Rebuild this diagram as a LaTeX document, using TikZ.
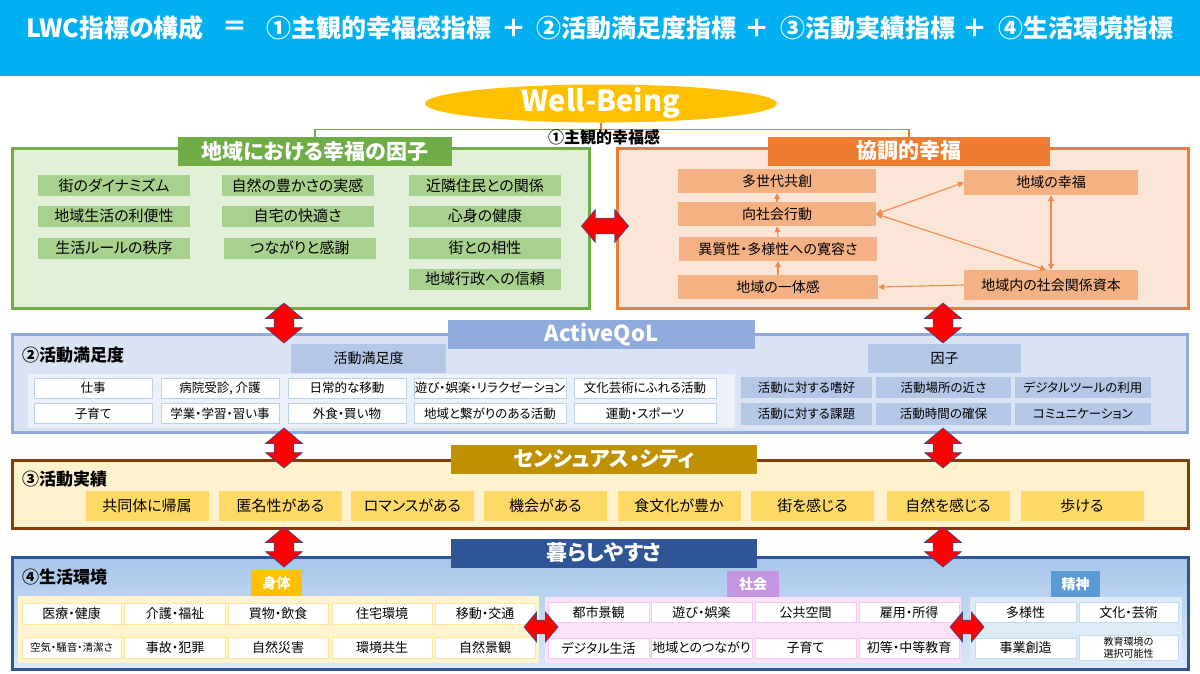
\documentclass[tikz,border=0pt]{standalone}
\usepackage{fontspec}
\setmainfont{Noto Sans CJK JP}[RawFeature=+palt]
\usetikzlibrary{shapes.geometric,shapes.arrows,arrows.meta}
\definecolor{banner}{HTML}{00B0F0}
\definecolor{wbgold}{HTML}{FFC000}
\definecolor{gline}{HTML}{70AD47}
\definecolor{gfill}{HTML}{E2F0D9}
\definecolor{gitemc}{HTML}{A9D18E}
\definecolor{oline}{HTML}{ED7D31}
\definecolor{ofill}{HTML}{FBE5D6}
\definecolor{oitemc}{HTML}{F4B183}
\definecolor{oarrc}{HTML}{F08A4B}
\definecolor{bline}{HTML}{8FAADC}
\definecolor{bfill}{HTML}{D9E3F3}
\definecolor{blight}{HTML}{EBF0F9}
\definecolor{bhead}{HTML}{B4C7E7}
\definecolor{bitemb}{HTML}{BDD0EC}
\definecolor{brline}{HTML}{843C0C}
\definecolor{brtab}{HTML}{BF9000}
\definecolor{brfill}{HTML}{FFF2CC}
\definecolor{britem}{HTML}{FFD966}
\definecolor{nline}{HTML}{2F5597}
\definecolor{ntop}{HTML}{A7C6EA}
\definecolor{nbot}{HTML}{DCE9F6}
\definecolor{shintai}{HTML}{FFC000}
\definecolor{shintaibg}{HTML}{FFF4D1}
\definecolor{shintaib}{HTML}{FFE699}
\definecolor{shakai}{HTML}{C596E0}
\definecolor{shakaibg}{HTML}{FBE2FA}
\definecolor{shakaib}{HTML}{F4C8F0}
\definecolor{seishin}{HTML}{5B9BD5}
\definecolor{seishinbg}{HTML}{DDEBF7}
\definecolor{seishinb}{HTML}{C5D9F0}
\definecolor{arrblue}{HTML}{3B4A8F}
\newcommand\myfs[1]{\fontsize{#1}{#1}\selectfont}
\begin{document}
\begin{tikzpicture}[x=1pt,y=-1pt,
  bx/.style 2 args={minimum width=#1pt, minimum height=#2pt, inner sep=0pt, outer sep=0pt},
  ttl/.style={text=white, font=\myfs{25}\bfseries, inner sep=0pt},
  tabtext/.style={text=white, font=\myfs{21}\bfseries, inner sep=0pt},
  sect/.style={text=black, font=\myfs{17}\bfseries, inner sep=0pt, anchor=west},
  gitem/.style={bx={152}{21}, fill=gitemc, font=\myfs{15}},
  oitem/.style={fill=oitemc, font=\myfs{14}, inner sep=0pt},
  bitem/.style={fill=white, draw=bitemb, line width=0.8pt, font=\myfs{12.5}, minimum height=20pt, inner sep=0pt},
  fitem/.style={fill=bhead, font=\myfs{12.5}, minimum height=21.5pt, inner sep=0pt},
  yitem/.style={bx={123}{30}, fill=britem, font=\myfs{15}},
  litem/.style={fill=white, draw=#1, line width=0.7pt, minimum height=21pt, font=\myfs{13}, inner sep=0pt},
  oarr/.style={draw=oarrc, line width=1.1pt, -{Triangle[length=6pt,width=6pt]}},
  oarrd/.style={draw=oarrc, line width=1.1pt, {Triangle[length=6pt,width=6pt]}-{Triangle[length=6pt,width=6pt]}},
  rarr/.style={double arrow, fill=red, draw=arrblue, line width=0.7pt, inner xsep=0pt, outer sep=0pt},
  rarrv/.style={rarr, rotate=90, minimum height=40pt, inner ysep=9.5pt, double arrow head extend=8.5pt, double arrow tip angle=100},
  rarrh/.style={rarr, minimum height=47pt, inner ysep=7.5pt, double arrow head extend=8.5pt, double arrow tip angle=100},
  rarrhs/.style={rarr, minimum height=34pt, inner ysep=6.5pt, double arrow head extend=8pt, double arrow tip angle=100},
]
\useasboundingbox (0,0) rectangle (1200,673);
\fill[white] (0,0) rectangle (1200,673);
% ---------- banner ----------
\fill[banner] (0,0) rectangle (1200,76);
\node[ttl] (t1) at (115,28) {LWC指標の構成};
\node[ttl] (t2) at (235,28) {＝};
\node[ttl] (t3) at (378.5,28) {①主観的幸福感指標};
\node[ttl] (t4) at (514,28) {＋};
\node[ttl] (t5) at (636.5,28) {②活動満足度指標};
\node[ttl] (t6) at (757,28) {＋};
\node[ttl] (t7) at (867.5,28) {③活動実績指標};
\node[ttl] (t8) at (975,28) {＋};
\node[ttl] (t9) at (1086,28) {④生活環境指標};
% ---------- Well-Being ----------
\node[ellipse, fill=wbgold, minimum width=352pt, minimum height=38pt, inner sep=0pt] (wb) at (601,103.5) {};
\node[text=white, font=\myfs{29}\bfseries, inner sep=0pt] (wbt) at (601,103) {Well-Being};
% ---------- green box ----------
\draw[gline, line width=3pt, fill=gfill] (12,148) rectangle (589,308);
\node[bx={274}{29}, fill=gline, tabtext] (gtab) at (315,151.5) {地域における幸福の因子};
\node[gitem] (g11) at (114,185.5) {街のダイナミズム};
\node[gitem] (g12) at (297.5,185.5) {自然の豊かさの実感};
\node[gitem] (g13) at (485,185.5) {近隣住民との関係};
\node[gitem] (g21) at (114,216) {地域生活の利便性};
\node[gitem] (g22) at (297.5,216) {自宅の快適さ};
\node[gitem] (g23) at (485,216) {心身の健康};
\node[gitem] (g31) at (114,248) {生活ルールの秩序};
\node[gitem] (g32) at (300,248) {つながりと感謝};
\node[gitem] (g33) at (485,248) {街との相性};
\node[gitem] (g43) at (485,279) {地域行政への信頼};
% ---------- orange box ----------
\draw[oline, line width=3pt, fill=ofill] (617,148) rectangle (1188,308);
\node[bx={282}{29}, fill=oline, tabtext] (otab) at (909,151) {協調的幸福};
\node[oitem, minimum width=198pt, minimum height=24pt] (o1) at (777,181) {多世代共創};
\node[oitem, minimum width=198pt, minimum height=24pt] (o2) at (777,214) {向社会行動};
\node[oitem, minimum width=198pt, minimum height=24pt] (o3) at (778,249) {異質性・多様性への寛容さ};
\node[oitem, minimum width=200pt, minimum height=24pt] (o4) at (778,287) {地域の一体感};
\node[oitem, minimum width=174pt, minimum height=25pt] (o5) at (1051,182.5) {地域の幸福};
\node[oitem, minimum width=174pt, minimum height=30pt] (o6) at (1051,285) {地域内の社会関係資本};
\draw[oarr] (o2.north) -- (o1.south);
\draw[oarr] (o3.north) -- (o2.south);
\draw[oarr] (o4.north) -- (o3.south);
\draw[oarrd] (o2.east) -- (o5.west);
\draw[oarrd] (o2.east) -- ([xshift=-5pt]o6.north);
\draw[oarrd] (o5.south) -- (o6.north);
\draw[oarr] (o6.west) -- (o4.east);
% connectors from Well-Being
\draw[gline, line width=1.2pt] (wb.south) -- ++(0,7) -| (gtab.north);
\draw[oline, line width=1.2pt] (wb.south) -- ++(0,7) -| (otab.north);
\node[font=\myfs{16}\bfseries, inner sep=0pt] (subj) at (604,137) {①主観的幸福感};
% ---------- ② ActiveQoL ----------
\draw[bline, line width=3pt, fill=bfill] (12,334) rectangle (1187,432);
\fill[blight] (28,374) rectangle (735,428);
\node[bx={307}{29}, fill=bline, text=white, font=\myfs{22}\bfseries] (aq) at (601.5,334.5) {ActiveQoL};
\node[sect] (s2) at (22,355) {②活動満足度};
\node[bx={155}{29}, fill=bhead, font=\myfs{14}] (h21) at (368.5,358.5) {活動満足度};
\node[bx={153}{29}, fill=bhead, font=\myfs{14}] (h22) at (944.5,358.5) {因子};
\node[bitem, minimum width=118pt] (b11) at (93,388) {仕事};
\node[bitem, minimum width=118pt] (b12) at (220,388) {病院受診, 介護};
\node[bitem, minimum width=118pt] (b13) at (347,388) {日常的な移動};
\node[bitem, minimum width=152pt] (b14) at (490,388) {遊び・娯楽・リラクゼーション};
\node[bitem, minimum width=142pt] (b15) at (645,388) {文化芸術にふれる活動};
\node[bitem, minimum width=118pt] (b21) at (93,413.5) {子育て};
\node[bitem, minimum width=118pt] (b22) at (220,413.5) {学業・学習・習い事};
\node[bitem, minimum width=118pt] (b23) at (347,413.5) {外食・買い物};
\node[bitem, minimum width=152pt] (b24) at (490,413.5) {地域と繋がりのある活動};
\node[bitem, minimum width=142pt] (b25) at (645,413.5) {運動・スポーツ};
\node[fitem, minimum width=131pt] (f11) at (806.5,387.5) {活動に対する嗜好};
\node[fitem, minimum width=135pt] (f12) at (943.5,387.5) {活動場所の近さ};
\node[fitem, minimum width=136pt] (f13) at (1083,387.5) {デジタルツールの利用};
\node[fitem, minimum width=131pt] (f21) at (806.5,414) {活動に対する課題};
\node[fitem, minimum width=135pt] (f22) at (943.5,414) {活動時間の確保};
\node[fitem, minimum width=136pt] (f23) at (1083,414) {コミュニケーション};
% ---------- ③ Sensuous City ----------
\draw[brline, line width=3pt, fill=brfill] (12,460) rectangle (1188,528);
\node[bx={306}{29}, fill=brtab, tabtext] (sc) at (604,459.5) {センシュアス・シティ};
\node[sect] (s3) at (22,479) {③活動実績};
\node[yitem] (y1) at (147,506) {共同体に帰属};
\node[yitem] (y2) at (280.5,506) {匿名性がある};
\node[yitem] (y3) at (412.5,506) {ロマンスがある};
\node[yitem] (y4) at (545.5,506) {機会がある};
\node[yitem] (y5) at (679,506) {食文化が豊か};
\node[yitem] (y6) at (812.5,506) {街を感じる};
\node[yitem] (y7) at (948,506) {自然を感じる};
\node[yitem] (y8) at (1082,506) {歩ける};
% ---------- ④ Livability ----------
\shade[top color=ntop, bottom color=nbot] (12,557) rectangle (1188,669);
\draw[nline, line width=3pt] (12,557) rectangle (1188,669);
\node[bx={306}{29}, fill=nline, tabtext] (kr) at (604,553) {暮らしやすさ};
\node[sect] (s4) at (22,577) {④生活環境};
\fill[shintaibg] (18,596) rectangle (539,663);
\fill[shakaibg] (545,597) rectangle (961,663);
\fill[seishinbg] (970,597) rectangle (1182,663);
\node[bx={51}{26}, fill=shintai, text=white, font=\myfs{14}\bfseries] (tb1) at (276.5,583) {身体};
\node[bx={52}{26}, fill=shakai, text=white, font=\myfs{14}\bfseries] (tb2) at (753,584) {社会};
\node[bx={49}{26}, fill=seishin, text=white, font=\myfs{14}\bfseries] (tb3) at (1075.5,584) {精神};
\node[litem=shintaib, minimum width=99pt] (p11) at (71.5,613.5) {医療・健康};
\node[litem=shintaib, minimum width=101pt] (p12) at (175,613.5) {介護・福祉};
\node[litem=shintaib, minimum width=100pt] (p13) at (278,613.5) {買物・飲食};
\node[litem=shintaib, minimum width=100pt] (p14) at (382,613.5) {住宅環境};
\node[litem=shintaib, minimum width=100pt] (p15) at (485,613.5) {移動・交通};
\node[litem=shintaib, minimum width=99pt, font=\myfs{10.5}] (p21) at (71.5,647.5) {空気・騒音・清潔さ};
\node[litem=shintaib, minimum width=101pt] (p22) at (175,647.5) {事故・犯罪};
\node[litem=shintaib, minimum width=100pt] (p23) at (278,647.5) {自然災害};
\node[litem=shintaib, minimum width=100pt] (p24) at (382,647.5) {環境共生};
\node[litem=shintaib, minimum width=100pt] (p25) at (485,647.5) {自然景観};
\node[litem=shakaib, minimum width=101pt, minimum height=20pt] (q11) at (598.5,612.5) {都市景観};
\node[litem=shakaib, minimum width=101pt, minimum height=20pt] (q12) at (701.5,612.5) {遊び・娯楽};
\node[litem=shakaib, minimum width=101pt, minimum height=20pt] (q13) at (805.5,612.5) {公共空間};
\node[litem=shakaib, minimum width=100pt, minimum height=20pt] (q14) at (909,612.5) {雇用・所得};
\node[litem=shakaib, minimum width=101pt, minimum height=20pt] (q21) at (598.5,648) {デジタル生活};
\node[litem=shakaib, minimum width=101pt, minimum height=20pt] (q22) at (701.5,648) {地域とのつながり};
\node[litem=shakaib, minimum width=101pt, minimum height=20pt] (q23) at (805.5,648) {子育て};
\node[litem=shakaib, minimum width=100pt, minimum height=20pt] (q24) at (909,648) {初等・中等教育};
\node[litem=seishinb, minimum width=101pt, minimum height=20pt] (r11) at (1025.5,612.5) {多様性};
\node[litem=seishinb, minimum width=101pt, minimum height=20pt] (r21) at (1025.5,648) {事業創造};
\node[litem=seishinb, minimum width=99pt, minimum height=20pt] (r12) at (1128.5,612.5) {文化・芸術};
\node[litem=seishinb, minimum width=99pt, minimum height=25pt, font=\fontsize{10}{12}\selectfont, align=center] (r22) at (1128.5,648) {教育環境の\\選択可能性};
% ---------- red double arrows ----------
\node[rarrh] (rh0) at (605,226) {};
\node[rarrv] (ra1) at (284,323) {};
\node[rarrv] (ra2) at (943,323) {};
\node[rarrv] (ra3) at (284,448) {};
\node[rarrv] (ra4) at (943,448) {};
\node[rarrv] (ra5) at (284,547) {};
\node[rarrv] (ra6) at (943,547) {};
\node[rarrhs] (rh1) at (541,627) {};
\node[rarrhs] (rh2) at (967,627) {};
\end{tikzpicture}
\end{document}
